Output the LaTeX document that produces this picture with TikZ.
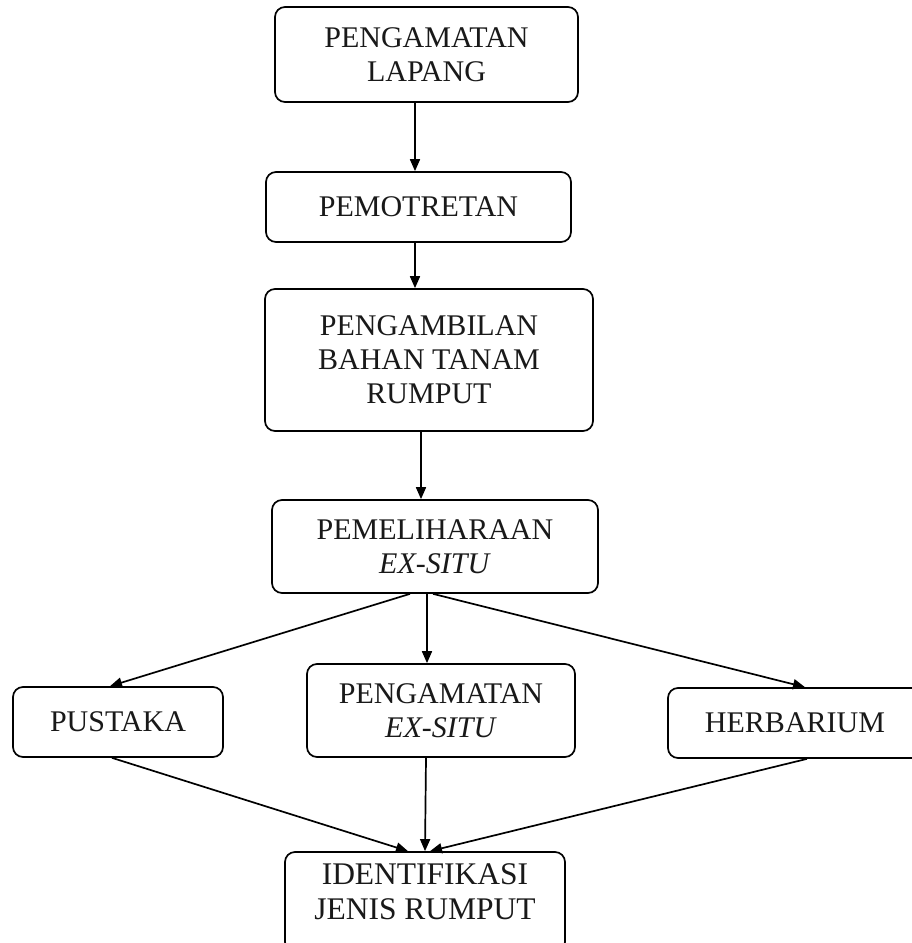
\documentclass[tikz,border=0pt]{standalone}
\usepackage{fontspec}
\setmainfont{Liberation Serif}
\usetikzlibrary{arrows.meta,calc}
\tikzset{
  box/.style={draw, line width=1.7pt, rounded corners=10pt, inner sep=0pt,
    align=center, font=\fontsize{30}{34}\selectfont, text=black!90},
  conn/.style={line width=1.7pt, -{Triangle[length=12pt,width=10pt]}},
}
\begin{document}
\begin{tikzpicture}[x=1pt,y=-1pt]
\clip (0,0) rectangle (912,943);
\fill[white] (0,0) rectangle (912,943);
\node[box, minimum width=303pt, minimum height=95pt] (b1) at (426.5,54.5) {PENGAMATAN\\LAPANG};
\node[box, minimum width=305pt, minimum height=70pt] (b2) at (418.5,207) {PEMOTRETAN};
\node[box, minimum width=328pt, minimum height=142pt] (b3) at (429,360) {PENGAMBILAN\\BAHAN TANAM\\RUMPUT};
\node[box, minimum width=326pt, minimum height=93pt] (b4) at (435,546.5) {PEMELIHARAAN\\\textit{EX-SITU}};
\node[box, minimum width=210pt, minimum height=70pt] (b5) at (118,722) {PUSTAKA};
\node[box, minimum width=268pt, minimum height=93pt] (b6) at (441,710.5) {PENGAMATAN\\\textit{EX-SITU}};
\node[box, minimum width=254pt, minimum height=70pt] (b7) at (795,723) {HERBARIUM};
\node[box, minimum width=280pt, minimum height=100pt, font=\fontsize{31.5}{35}\selectfont] (b8) at (425,902) {IDENTIFIKASI\\JENIS RUMPUT\\[-14pt]~};

\draw[conn] ($(b1.south)+(-11.5,0)$) -- ($(b2.north)+(-3.5,0)$);
\draw[conn] ($(b2.south)+(-3.5,0)$) -- ($(b3.north)+(-14,0)$);
\draw[conn] ($(b3.south)+(-8,0)$) -- ($(b4.north)+(-14,0)$);
\draw[conn] ($(b4.south)+(-25,0)$) -- ($(b5.north)+(-8,0)$);
\draw[conn] ($(b4.south)+(-8,0)$) -- ($(b6.north)+(-14,0)$);
\draw[conn] ($(b4.south)+(-2,0)$) -- ($(b7.north)+(10,0)$);
\draw[conn] ($(b5.south)+(-6,0)$) -- ($(b8.north)+(-17,0)$);
\draw[conn] ($(b6.south)+(-15,0)$) -- ($(b8.north)+(0,0)$);
\draw[conn] ($(b7.south)+(12,0)$) -- ($(b8.north)+(5,0)$);
\end{tikzpicture}
\end{document}
